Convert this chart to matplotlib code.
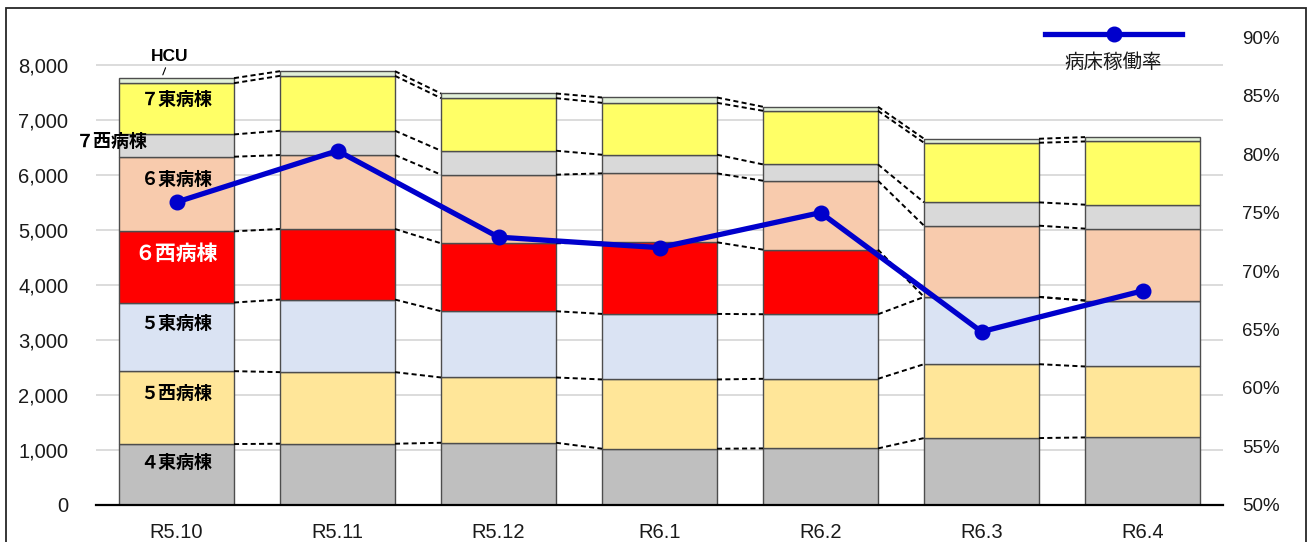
import matplotlib
matplotlib.use("Agg")
import matplotlib.pyplot as plt
from matplotlib.lines import Line2D
from matplotlib.patches import Rectangle

plt.rcParams['font.family'] = ['Liberation Sans', 'Noto Sans CJK JP', 'DejaVu Sans']

months = ["R5.10", "R5.11", "R5.12", "R6.1", "R6.2", "R6.3", "R6.4"]

# 延べ患者数 (病棟別), stacked bottom -> top
ward_names = ["４東病棟", "５西病棟", "５東病棟", "６西病棟", "６東病棟", "７西病棟", "７東病棟", "HCU"]
e4 = [1100, 1106, 1124, 1015, 1021, 1209, 1221]
w5 = [1327, 1303, 1188, 1261, 1267, 1345, 1291]
e5 = [1249, 1321, 1206, 1193, 1175, 1224, 1200]
w6 = [1296, 1285, 1236, 1303, 1176, 0, 0]
e6 = [1358, 1345, 1249, 1255, 1254, 1297, 1309]
w7 = [406, 443, 436, 339, 297, 424, 436]
e7 = [933, 999, 957, 945, 976, 1085, 1151]
hcu = [91, 85, 85, 97, 73, 73, 79]

# 病床稼働率 (%)
rate = [75.9, 80.3, 72.9, 72.0, 75.0, 64.8, 68.3]

series = [e4, w5, e5, w6, e6, w7, e7, hcu]
colors = ["#BFBFBF", "#FFE699", "#DAE3F3", "#FF0000", "#F8CBAD", "#D9D9D9", "#FFFF66", "#E2F0D9"]

fig = plt.figure(figsize=(13.1, 5.42), dpi=100)
ax = fig.add_axes([96 / 1310, 37.5 / 542, 1127 / 1310, 467 / 542])

x = list(range(len(months)))
w = 0.714

bottoms = [0] * len(months)
tops_all = []
for vals, col in zip(series, colors):
    ax.bar(x, vals, w, bottom=bottoms, color=col, edgecolor="#4d4d4d", linewidth=1.0, zorder=2)
    bottoms = [b + v for b, v in zip(bottoms, vals)]
    tops_all.append(list(bottoms))

# dashed connectors between bars
for tops in tops_all:
    for i in range(len(months) - 1):
        ax.plot([i + w / 2, i + 1 - w / 2], [tops[i], tops[i + 1]], color="black",
                linestyle=(0, (2.6, 1.7)), linewidth=1.4, zorder=3)

# ward labels on first bar
base = 0
for name, vals in zip(ward_names[:-1], series[:-1]):
    ypos = base + vals[0] * 0.69
    xpos = 0
    col = "black"
    fs = 13
    if name == "７西病棟":
        xpos = -0.4
    if name == "６西病棟":
        col = "white"
        fs = 15
    ax.text(xpos, ypos, name, ha="center", va="center", fontsize=fs, fontweight="bold",
            color=col, family=["Noto Sans CJK JP", "DejaVu Sans"], zorder=4)
    base += vals[0]

ax.annotate("HCU", xy=(-0.085, tops_all[-1][0] + 60), xytext=(-0.04, 8160),
            ha="center", va="center", fontsize=12.5, fontweight="bold", fontstretch="condensed",
            family=["Liberation Sans Narrow", "Liberation Sans"],
            arrowprops=dict(arrowstyle="-", lw=0.8, color="black", shrinkA=1, shrinkB=0))

ax.set_xlim(-0.5, len(months) - 0.5)
ax.set_ylim(0, 8500)
ax.set_yticks(range(0, 8001, 1000))
ax.set_yticklabels([f"{v:,}" for v in range(0, 8001, 1000)])
ax.set_xticks(x)
ax.set_xticklabels(months)
ax.yaxis.grid(True, color="#D9D9D9", linewidth=1.3, zorder=0)
ax.set_axisbelow(True)
for s in ["top", "left", "right"]:
    ax.spines[s].set_visible(False)
ax.spines["bottom"].set_linewidth(1.6)
ax.spines["bottom"].set_zorder(5)
ax.tick_params(axis="y", length=0, pad=20, labelsize=14.5, labelcolor="#1a1a1a")
ax.tick_params(axis="x", length=0, pad=13, labelsize=14.5, labelcolor="#1a1a1a")

ax2 = ax.twinx()
ax2.plot(x, rate, color="#0000CC", linewidth=3.8, marker="o", markersize=10.5, zorder=6)
ax2.set_ylim(50, 90)
ax2.set_yticks(range(50, 91, 5))
ax2.set_yticklabels([f"{v}%" for v in range(50, 91, 5)])
ax2.tick_params(axis="y", length=0, pad=14, labelsize=13.5, labelcolor="#1a1a1a")
for s in ["top", "left", "right", "bottom"]:
    ax2.spines[s].set_visible(False)

# legend drawn by hand (top right)
ly = 1 - 34 / 542
fig.add_artist(Line2D([1045 / 1310, 1182 / 1310], [ly, ly], color="#0000CC", linewidth=3.8))
fig.add_artist(Line2D([1114 / 1310], [ly], color="#0000CC", marker="o", markersize=10.5))
fig.text(1113 / 1310, 1 - 62 / 542, "病床稼働率", ha="center", va="center", fontsize=14,
         color="#1a1a1a", family=["Noto Sans CJK JP", "DejaVu Sans"])

# chart frame
fig.add_artist(Rectangle((6 / 1310, -0.05), 1300 / 1310, 1.05 - 8 / 542, transform=fig.transFigure,
                         fill=False, edgecolor="#262626", linewidth=1.3))

fig.savefig("out.png", dpi=100)
